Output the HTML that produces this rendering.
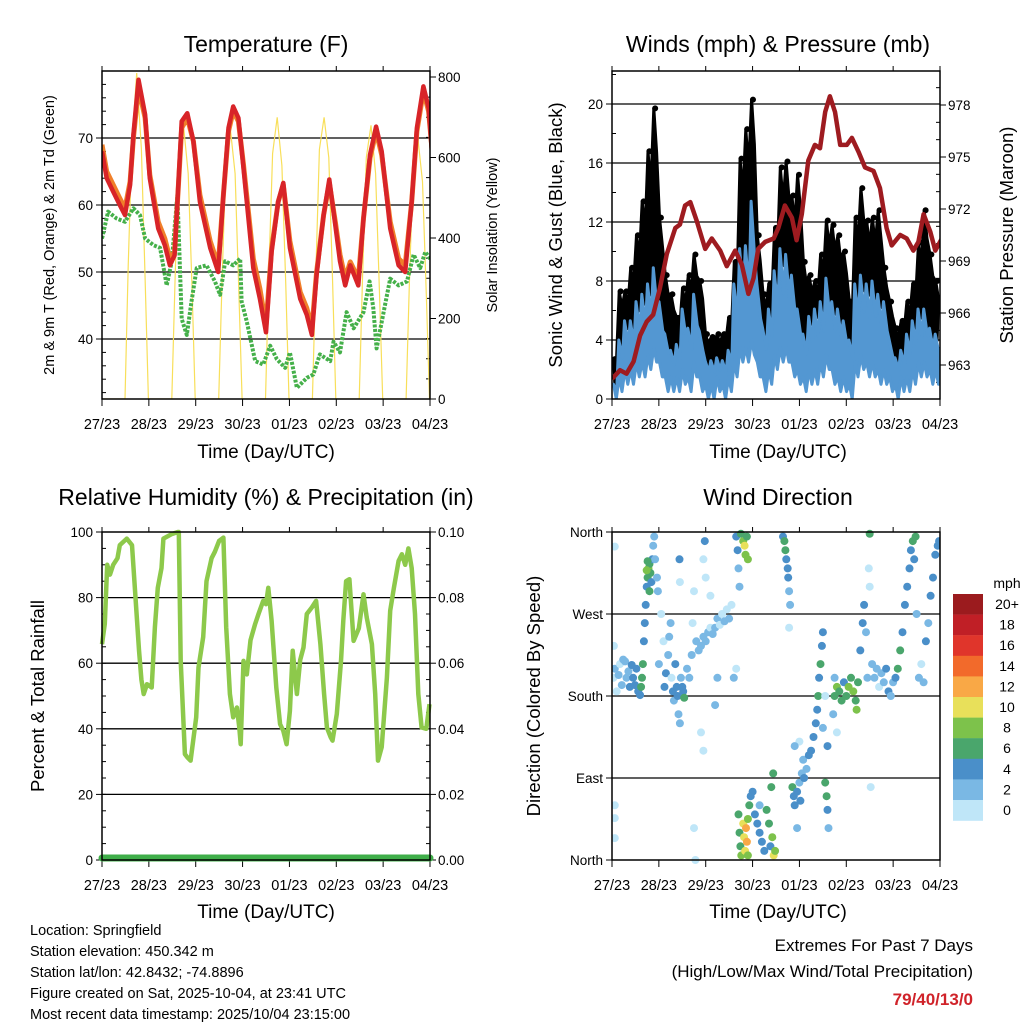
<!DOCTYPE html>
<html><head><meta charset="utf-8"><style>
html,body{margin:0;padding:0;background:#fff;}
svg{display:block;font-family:"Liberation Sans",Arial,sans-serif;}
</style></head><body>
<svg id="chart" width="1024" height="1024" viewBox="0 0 1024 1024" xmlns="http://www.w3.org/2000/svg">
<rect width="1024" height="1024" fill="#fff"/>
<g id="g1"></g>
<g id="g2"></g>
<g id="g3"></g>
<g id="g4"></g>
<g id="gtext">
<text x="30" y="935" font-size="14.5">Location: Springfield</text>
<text x="30" y="956" font-size="14.5">Station elevation: 450.342 m</text>
<text x="30" y="977" font-size="14.5">Station lat/lon: 42.8432; -74.8896</text>
<text x="30" y="998" font-size="14.5">Figure created on Sat, 2025-10-04, at 23:41 UTC</text>
<text x="30" y="1019" font-size="14.5">Most recent data timestamp: 2025/10/04 23:15:00</text>
<text x="973" y="951" font-size="17" text-anchor="end">Extremes For Past 7 Days</text>
<text x="973" y="977" font-size="17" text-anchor="end">(High/Low/Max Wind/Total Precipitation)</text>
<text x="973" y="1005" font-size="17" font-weight="bold" fill="#d0232a" text-anchor="end">79/40/13/0</text>
</g>
</svg>
<script>
// ---------- DATA ----------
const dayLabels = ["27/23","28/23","29/23","30/23","01/23","02/23","03/23","04/23"];
const tempTimes = [0,0.1,0.24,0.38,0.49,0.6,0.67,0.78,0.92,1.02,1.2,1.34,1.45,1.55,1.7,1.82,1.95,2.09,2.31,2.48,2.59,2.7,2.8,2.91,3.02,3.23,3.37,3.5,3.62,3.76,3.87,4.01,4.23,4.37,4.48,4.58,4.73,4.85,4.98,5.08,5.19,5.3,5.47,5.58,5.72,5.85,5.97,6.15,6.33,6.47,6.61,6.72,6.86,6.97,7.04];
const temp2m = [68,64,62,60,58.5,63,70.5,78.7,73.5,64,56.5,54,51,52.5,72.5,73.7,69.5,60.5,53.6,50,61.5,71.5,74.7,73,65.5,50.6,46,41,53,60.5,63.3,53.6,46,43.6,40.6,49.6,58.5,63.8,57,51.6,48,51,48,58,67.5,71.7,68,56.5,51,50,60.5,71.5,77.7,74.5,68];
const temp9m = [69,65,63,61,59.5,63.5,70,77.5,73,64.5,57.5,55,52,53,71.5,73,69.5,61.5,54.6,51,61.5,71,74,72.5,66,52,47.5,42,53.5,60.5,63,54.6,47,44.6,41.6,50,58.5,63.3,57.5,52.6,49,51.5,49,58,67,71,67.5,57.5,52,51,60.5,71,77,74,68.5];
const dewTimes = [0,0.13,0.31,0.49,0.67,0.81,0.92,1.1,1.24,1.38,1.49,1.61,1.7,1.81,1.91,2.02,2.23,2.41,2.52,2.63,2.8,2.95,2.98,3.09,3.27,3.44,3.59,3.73,3.91,4.01,4.16,4.37,4.51,4.65,4.87,4.94,5.08,5.22,5.37,5.58,5.71,5.79,5.86,6.01,6.15,6.33,6.51,6.65,6.79,6.9,7.04];
const dewPt = [55,59,58,57.5,59.5,58.5,55,54,53.6,48,51.6,61.5,43,40.6,45.6,50.6,51,48.6,46.6,51.6,51,52,45.6,42.6,36.7,36.2,39,37,35.7,38,32.7,34.2,34.7,37.7,36.7,39.6,38,44,41.6,44,48.6,44.6,38.6,44,49,48,48.6,52.6,50.6,53,51.6];
const solarTimes = [0,0.49,0.56,0.64,0.74,0.84,0.92,0.99,1.49,1.56,1.64,1.74,1.84,1.92,1.99,2.49,2.56,2.64,2.74,2.84,2.92,2.99,3.49,3.56,3.64,3.74,3.84,3.92,3.99,4.49,4.56,4.64,4.74,4.84,4.92,4.99,5.49,5.56,5.64,5.74,5.84,5.92,5.99,6.49,6.56,6.64,6.74,6.84,6.92,6.99,7.04];
const solarVals = [0,0,330,640,810,620,300,0,0,300,600,680,560,280,0,0,290,580,670,560,270,0,0,310,610,700,580,290,0,0,300,620,700,600,300,0,0,300,600,680,560,270,0,0,290,570,650,540,260,0,0];
const windHigh = [1,4,5.3,5.3,6.6,7.1,7.8,8.9,6.6,4.4,3.3,3.7,6.1,4.8,7.1,4.6,2.6,2.6,2.8,2.6,3.3,7.8,10.2,10.4,13.4,7.8,4.8,6.1,8.7,10.2,9.8,8.4,6.1,4.4,5.6,6.1,6.6,8.2,6.6,6.1,5.3,4,7.8,8.4,7.8,8,7.1,6.6,4,2.8,3.3,4.4,5.3,6.1,6.1,4.8,4.4];
const windLow = [0,0.5,1,1,1.5,1.5,2,2.5,1.5,0.5,0.5,0.5,1,0.5,1.5,0.5,0,0,0.5,0,0.5,1.5,2.5,2.5,3,1.5,0.5,1,2,2.5,2.5,1.5,1,0.5,1,1,1.5,2,1,0.5,0.5,0,1.5,2,1.5,1.5,1,1,0.5,0,0.5,0.5,1,1.5,1.5,1,1];
const gustHigh = [2.7,7.3,7.3,8.9,11.1,13.4,16.8,19.7,12.3,8.4,7.1,5.5,7.5,8.4,9.8,8,4.4,4.2,4.4,4.4,5.5,9.3,16.3,18.3,20.3,11.1,7.1,7.8,11.6,15.7,16.1,13.8,15.2,9.3,8.4,8,9.8,12.1,11.8,11.1,10,6.6,12.3,14.3,12.1,12.3,12.8,8.9,6.6,4.8,5.3,6.6,7.8,10.6,12.8,9.8,8];
const presTimes = [0,0.17,0.31,0.46,0.6,0.74,0.88,1.02,1.17,1.35,1.45,1.56,1.67,1.81,1.99,2.13,2.31,2.45,2.63,2.77,2.91,3.02,3.12,3.27,3.45,3.55,3.69,3.84,3.94,4.05,4.19,4.33,4.44,4.55,4.65,4.76,4.87,5.01,5.12,5.26,5.4,5.58,5.72,5.86,5.97,6.15,6.29,6.43,6.54,6.65,6.79,6.9,7.04];
const presVals = [962.2,962.7,962.5,963.2,964.7,965.5,965.9,967.4,969.4,970.9,971.1,972.2,972.4,971.3,969.7,970.3,969.6,968.7,969.6,968.8,967.1,968,969.7,970.1,970.3,970.9,972.2,971.5,970.2,971.7,974.8,975.7,975.5,977.6,978.5,977.6,975.7,975.7,976.1,975.3,974.4,974.2,973.2,970.9,969.9,970.5,970.3,969.6,970.1,971.7,970.7,969.6,970.3];
const rhTimes = [0,0.06,0.11,0.17,0.24,0.33,0.38,0.53,0.64,0.79,0.84,0.89,0.96,1.06,1.13,1.19,1.27,1.31,1.48,1.62,1.64,1.68,1.77,1.82,1.89,2.01,2.06,2.16,2.23,2.34,2.41,2.5,2.59,2.65,2.73,2.8,2.88,2.93,2.96,3.02,3.09,3.17,3.27,3.34,3.44,3.5,3.55,3.62,3.72,3.8,3.87,3.94,4.01,4.07,4.16,4.23,4.3,4.37,4.48,4.57,4.66,4.74,4.8,4.88,4.92,5.01,5.1,5.15,5.21,5.28,5.37,5.48,5.58,5.65,5.76,5.83,5.89,5.97,6.08,6.15,6.23,6.33,6.4,6.47,6.54,6.61,6.68,6.75,6.82,6.92,6.99];
const rhVals = [65.8,72,90,87,90,92,96,98,96,64,55,50.6,53.6,52.6,71,83,89,98,99.3,100,100,60.7,32.3,31.3,30.3,43.5,58.7,68,85,92,94,97.3,98.3,71,50.6,43.5,46.5,40.4,35.3,60.7,56.6,67,72,75,79,78,83,73,52.6,41.4,39.4,35.3,45.5,63.8,50.6,61,64.8,75,77,79,65.8,50.6,40.4,37.4,36.4,44.5,60.7,73,85,85.6,66.8,70.6,81,74,65.8,50.6,30.3,34.4,55.6,76,83,91.2,93.2,90,95,89,75,50.6,40.4,40,47.5,56.6];
const rainTotal = [0,0];
const dirTimes = [0.03,0.06,0.1,0.14,0.17,0.21,0.24,0.28,0.31,0.35,0.38,0.42,0.45,0.49,0.52,0.56,0.6,0.06,0.06,0.06,0.06,0.04,
0.62,0.64,0.66,0.68,0.7,0.72,0.74,0.76,0.78,0.8,0.82,0.84,0.86,0.88,0.9,0.92,0.96,0.98,0.8,0.74,0.76,
1.0,1.05,1.1,1.12,1.15,1.2,1.22,1.25,1.27,1.3,1.32,1.35,1.38,1.4,1.42,1.45,1.47,1.5,1.52,1.54,1.44,1.45,
1.6,1.65,1.7,1.72,1.75,1.8,1.85,1.9,1.95,2.0,2.05,2.1,2.15,2.2,2.25,2.3,2.35,2.4,2.45,2.5,2.55,2.6,2.65,1.9,1.75,1.78,1.95,2.0,1.98,1.95,2.1,2.2,2.25,
2.65,2.68,2.7,2.72,2.75,2.8,2.83,2.85,2.88,2.9,
2.7,2.72,2.74,2.76,2.8,2.82,2.84,2.86,2.88,2.9,2.93,2.96,2.9,3.0,
3.05,3.1,3.15,3.2,3.25,3.3,3.35,3.38,3.42,3.45,3.48,3.15,3.4,3.44,
3.65,3.68,3.7,3.72,3.75,3.76,3.78,3.8,3.78,
3.85,3.88,3.9,3.95,4.0,4.02,4.05,4.08,4.1,4.0,3.95,3.9,
4.15,4.2,4.25,4.3,4.35,4.38,4.4,4.42,4.45,4.48,4.5,4.55,4.58,4.6,4.62,4.6,4.55,4.5,
4.75,4.8,4.85,4.9,4.95,5.0,5.05,5.1,5.15,5.2,5.25,4.75,5.22,4.72,4.8,
5.3,5.35,5.38,5.42,5.45,5.48,5.5,5.52,5.55,5.6,5.65,5.7,5.75,5.8,5.85,5.9,5.95,6.0,6.05,6.1,6.15,6.2,6.25,6.3,6.35,6.38,6.42,6.45,6.48,5.5,6.5,6.55,6.6,6.65,6.7,6.75,6.8,6.85,6.9,6.95,6.98];
const dirDegrees = [200,210,185,203,215,192,220,218,200,207,190,214,200,192,210,185,181,344,60,46,24,235,
190,200,215,240,260,280,300,310,320,325,315,305,330,345,355,330,310,295,295,318,328,
215,270,240,190,205,225,245,260,200,185,175,215,190,180,160,150,200,190,185,178,330,305,
210,200,225,260,295,240,230,235,245,240,250,255,248,255,265,258,270,262,275,265,280,200,210,140,35,0,330,310,350,120,290,170,200,
355,340,320,300,358,350,345,335,355,330,
50,30,15,5,40,25,10,35,20,45,60,70,5,75,
50,40,30,20,10,55,40,15,25,5,10,60,80,95,
355,350,340,330,320,310,295,280,255,
80,70,60,75,85,65,95,110,90,130,35,125,
100,115,120,135,150,165,180,200,215,235,250,85,70,55,35,125,180,145,
180,190,185,175,195,180,190,200,185,175,195,200,165,160,140,
230,260,280,250,200,320,300,80,215,200,210,190,205,195,210,185,180,195,200,210,230,250,280,300,320,340,350,330,355,358,270,200,215,195,240,260,290,310,335,345,350];
const dirSpeeds = [1,2,1,2,1,3,2,2,3,3,4,4,5,4,4,4,4,1,1,1,1,1,
6,7,7,5,5,5,4,7,8,7,6,5,4,2,2,2,2,2,6,8,6,
3,1,1,4,4,2,3,3,1,4,2,4,5,4,3,3,2,5,4,6,4,1,
3,3,2,1,1,2,3,3,2,2,2,1,2,2,2,1,1,2,1,2,1,2,1,1,1,1,1,1,4,1,1,2,2,
4,4,2,3,7,9,10,8,6,8,
6,7,6,8,10,11,10,12,13,8,6,5,9,4,
4,4,4,5,4,7,7,4,8,10,9,3,6,6,
5,7,6,5,4,5,3,2,1,
6,5,4,4,3,4,2,3,4,1,2,3,
3,4,4,5,5,4,6,5,6,4,5,7,6,5,3,4,1,3,
6,8,7,6,5,7,9,7,8,6,7,3,8,2,1,
4,4,4,3,2,1,1,1,2,2,2,1,2,3,4,4,3,2,4,6,7,4,4,4,4,4,7,5,6,6,3,2,1,2,4,3,4,4,5,4,4];
const speedLabels = ["20+","18","16","14","12","10","8","6","4","2","0"];
const speedColors = ["#bfe6f8","#7ab8e4","#4a8fc9","#4aa66c","#7dc24b","#e8e05a","#f9a846","#f26a2b","#e0352b","#c01f26","#9b1b1e"];

// ---------- HELPERS ----------
const NS = "http://www.w3.org/2000/svg";
function mk(parent, tag, attrs, text) {
  const e = document.createElementNS(NS, tag);
  for (const k in attrs) e.setAttribute(k, attrs[k]);
  if (text !== undefined) e.textContent = text;
  parent.appendChild(e);
  return e;
}
function lin(d0, d1, r0, r1) { return v => r0 + (v - d0) * (r1 - r0) / (d1 - d0); }
const DAYS = 7;

function frame(g, x0, y0, x1, y1, yTicks, ys, ytl, minorStep, minorRange, xs) {
  yTicks.forEach((t, i) => {
    const y = ys(t);
    if (y < y1 - 1 && y > y0 + 1) {
      const l = mk(g, "line", {x1: x0, x2: x1, y1: y, y2: y, stroke: "#000", "stroke-width": 1.3});
      
      
    }
    mk(g, "line", {x1: x0 - 6, x2: x0, y1: y, y2: y, stroke: "#000", "stroke-width": 1});
    const lbl = mk(g, "text", {x: x0 - 9, y: y + 5, "font-size": 13.5, "text-anchor": "end"}, ytl[i]);
    
    
  });
  for (let v = minorRange[0]; v <= minorRange[1] + 1e-9; v += minorStep) {
    const y = ys(v);
    if (y < y0 || y > y1) continue;
    mk(g, "line", {x1: x0, x2: x0 + 4, y1: y, y2: y, stroke: "#000", "stroke-width": 1});
  }
  for (let d = 0; d <= DAYS; d++) {
    const x = xs(d);
    mk(g, "line", {x1: x, x2: x, y1: y1, y2: y1 + 7, stroke: "#000", "stroke-width": 1});
    mk(g, "line", {x1: x, x2: x, y1: y0, y2: y0 - 5, stroke: "#000", "stroke-width": 1});
    const lbl = mk(g, "text", {x: x, y: y1 + 30, "font-size": 14.5, "text-anchor": "middle"}, dayLabels[d]);
    
    
  }
}
function border(g, x0, y0, x1, y1) {
  const r = mk(g, "rect", {x: x0, y: y0, width: x1 - x0, height: y1 - y0, fill: "none", stroke: "#000", "stroke-width": 1.5});
  
  
}
function rightAxis(g, x1, vals, ys, labels, minor) {
  vals.forEach((v, i) => {
    const y = ys(v);
    mk(g, "line", {x1: x1, x2: x1 + 6, y1: y, y2: y, stroke: "#000", "stroke-width": 1});
    const t = mk(g, "text", {x: x1 + 8, y: y + 5, "font-size": 13.5}, labels[i]);
    
    
  });
  minor.forEach(v => { const y = ys(v); mk(g, "line", {x1: x1, x2: x1 - 4, y1: y, y2: y, stroke: "#000", "stroke-width": 1}); });
}
function pathFrom(xsArr, ysArr, xs, ys) {
  return xsArr.map((t, i) => (i ? "L" : "M") + xs(t).toFixed(1) + "," + ys(ysArr[i]).toFixed(1)).join("");
}
function title(g, x, y, txt, size, name) {
  const t = mk(g, "text", {x: x, y: y, "font-size": size, "text-anchor": "middle"}, txt);
  
  
}
function vtitle(g, x, y, txt, size, name) {
  const t = mk(g, "text", {x: x, y: y, "font-size": size, "text-anchor": "middle", transform: "rotate(-90 " + x + " " + y + ")"}, txt);
  
  
}

// ---------- PANEL 1 ----------
(function () {
  const g = document.getElementById("g1");
  const x0 = 102, x1 = 430, y0 = 71, y1 = 399;
  const xs = lin(0, DAYS, x0, x1);
  const ys = lin(40, 70, 339, 138);
  const ss = lin(0, 800, 399, 77);
  const cp = mk(g, "clipPath", {id: "c1"}); mk(cp, "rect", {x: x0, y: y0, width: x1 - x0, height: y1 - y0});
  frame(g, x0, y0, x1, y1, [40, 50, 60, 70], ys, ["40", "50", "60", "70"], 2, [32, 80], xs);
  rightAxis(g, x1, [0, 200, 400, 600, 800], ss, ["0", "200", "400", "600", "800"], [50,100,150,250,300,350,450,500,550,650,700,750]);
  const pc = mk(g, "g", {"clip-path": "url(#c1)"});
  const sol = mk(pc, "path", {d: pathFrom(solarTimes, solarVals, xs, ss), fill: "none", stroke: "#f8df5a", "stroke-width": 1.2});
  
  
  const dew = mk(pc, "path", {d: pathFrom(dewTimes, dewPt, xs, ys), fill: "none", stroke: "#45b04a", "stroke-width": 4, "stroke-dasharray": "3 1.5", "stroke-linejoin": "round"});
  
  
  const t9 = mk(pc, "path", {d: pathFrom(tempTimes, temp9m, xs, ys), fill: "none", stroke: "#f07f2a", "stroke-width": 5, "stroke-linejoin": "round"});
  
  
  const t2 = mk(pc, "path", {d: pathFrom(tempTimes, temp2m, xs, ys), fill: "none", stroke: "#d82428", "stroke-width": 4.5, "stroke-linejoin": "round"});
  
  
  border(g, x0, y0, x1, y1);
  title(g, 266, 52, "Temperature (F)", 23, "temperature-title");
  title(g, 266, 458, "Time (Day/UTC)", 19, "x-axis-title");
  vtitle(g, 54, 235, "2m & 9m T (Red, Orange) & 2m Td (Green)", 14.5, "y-axis-title");
  vtitle(g, 497, 235, "Solar Insolation (Yellow)", 14.5, "right-axis-title");
})();

// ---------- PANEL 2 ----------
(function () {
  const g = document.getElementById("g2");
  const x0 = 612, x1 = 940, y0 = 71, y1 = 399;
  const xs = lin(0, DAYS, x0, x1);
  const ys = lin(0, 20, 399, 104);
  const ps = lin(963, 978, 365, 105);
  const cp = mk(g, "clipPath", {id: "c2"}); mk(cp, "rect", {x: x0, y: y0, width: x1 - x0, height: y1 - y0});
  frame(g, x0, y0, x1, y1, [0, 4, 8, 12, 16, 20], ys, ["0", "4", "8", "12", "16", "20"], 2, [0, 22], xs);
  rightAxis(g, x1, [963, 966, 969, 972, 975, 978], ps, ["963", "966", "969", "972", "975", "978"], [962,964,965,967,968,970,971,973,974,976,977,979]);
  const pc = mk(g, "g", {"clip-path": "url(#c2)"});
  const n = gustHigh.length;
  const bt = i => (i + 0.5) * DAYS / n;
  let top = "", bot = "";
  for (let i = 0; i < n; i++) {
    top += (i ? "L" : "M") + xs(bt(i) - 0.03).toFixed(1) + "," + ys(gustHigh[i]).toFixed(1) + "L" + xs(bt(i) + 0.03).toFixed(1) + "," + ys(gustHigh[i] * 0.85).toFixed(1);
  }
  for (let i = n - 1; i >= 0; i--) bot += "L" + xs(bt(i)).toFixed(1) + "," + ys(windHigh[i] * 0.9).toFixed(1);
  const gp = mk(pc, "path", {d: top + bot + "Z", fill: "#000", stroke: "#000", "stroke-width": 3, "stroke-linejoin": "round"});
  
  
  for (let i = 0; i < n; i++) {
    const c = mk(pc, "circle", {cx: xs(bt(i)), cy: ys(gustHigh[i]), r: 3, fill: "#000"});
    
    
  }
  let wt = "", wb = "";
  for (let i = 0; i < n; i++) {
    wt += (i ? "L" : "M") + xs(bt(i) - 0.04).toFixed(1) + "," + ys(windHigh[i]).toFixed(1) + "L" + xs(bt(i) + 0.04).toFixed(1) + "," + ys(windHigh[i] * 0.7).toFixed(1);
  }
  for (let i = n - 1; i >= 0; i--) wb += "L" + xs(bt(i) + 0.03).toFixed(1) + "," + ys(windLow[i]).toFixed(1) + "L" + xs(bt(i) - 0.03).toFixed(1) + "," + ys(windLow[i] + 1).toFixed(1);
  const wp = mk(pc, "path", {d: wt + wb + "Z", fill: "#5397d2", stroke: "#5397d2", "stroke-width": 3, "stroke-linejoin": "round"});
  
  
  const pl = mk(pc, "path", {d: pathFrom(presTimes, presVals, xs, ps), fill: "none", stroke: "#9e1b20", "stroke-width": 4.5, "stroke-linejoin": "round"});
  
  
  border(g, x0, y0, x1, y1);
  title(g, 778, 52, "Winds (mph) & Pressure (mb)", 23, "winds-title");
  title(g, 778, 458, "Time (Day/UTC)", 19, "x-axis-title");
  vtitle(g, 562, 235, "Sonic Wind & Gust (Blue, Black)", 18.5, "y-axis-title");
  vtitle(g, 1013, 235, "Station Pressure (Maroon)", 18.5, "right-axis-title");
})();

// ---------- PANEL 3 ----------
(function () {
  const g = document.getElementById("g3");
  const x0 = 102, x1 = 430, y0 = 532, y1 = 860;
  const xs = lin(0, DAYS, x0, x1);
  const ys = lin(0, 100, 860, 532);
  const rs = lin(0, 0.1, 860, 532);
  const cp = mk(g, "clipPath", {id: "c3"}); mk(cp, "rect", {x: x0 - 4, y: y0 - 3, width: x1 - x0 + 8, height: y1 - y0 + 8});
  frame(g, x0, y0, x1, y1, [0, 20, 40, 60, 80, 100], ys, ["0", "20", "40", "60", "80", "100"], 5, [0, 100], xs);
  rightAxis(g, x1, [0, 0.02, 0.04, 0.06, 0.08, 0.1], rs, ["0.00", "0.02", "0.04", "0.06", "0.08", "0.10"], [0.005,0.01,0.015,0.025,0.03,0.035,0.045,0.05,0.055,0.065,0.07,0.075,0.085,0.09,0.095]);
  const pc = mk(g, "g", {"clip-path": "url(#c3)"});
  const rh = mk(pc, "path", {d: pathFrom(rhTimes, rhVals, xs, ys), fill: "none", stroke: "#8dc94b", "stroke-width": 4.5, "stroke-linejoin": "round"});
  
  
  const rn = mk(pc, "path", {d: pathFrom([0, DAYS], rainTotal, xs, rs), fill: "none", stroke: "#3fae49", "stroke-width": 7, "stroke-linecap": "round", transform: "translate(0,-2)"});
  
  
  border(g, x0, y0, x1, y1);
  title(g, 266, 505, "Relative Humidity (%) & Precipitation (in)", 23, "humidity-title");
  title(g, 266, 918, "Time (Day/UTC)", 19, "x-axis-title");
  vtitle(g, 44, 696, "Percent & Total Rainfall", 18.5, "y-axis-title");
})();

// ---------- PANEL 4 ----------
(function () {
  const g = document.getElementById("g4");
  const x0 = 612, x1 = 940, y0 = 532, y1 = 860;
  const xs = lin(0, DAYS, x0, x1);
  const ys = lin(0, 360, 860, 532);
  const cp = mk(g, "clipPath", {id: "c4"}); mk(cp, "rect", {x: x0, y: y0 - 4, width: x1 - x0, height: y1 - y0 + 8});
  frame(g, x0, y0, x1, y1, [0, 90, 180, 270, 360], ys, ["North", "East", "South", "West", "North"], 1000, [0, 0], xs);
  const pc = mk(g, "g", {"clip-path": "url(#c4)"});
  dirTimes.forEach((t, i) => {
    const ci = Math.min(10, Math.floor(dirSpeeds[i] / 2));
    const c = mk(pc, "circle", {cx: xs(t).toFixed(1), cy: ys(dirDegrees[i]).toFixed(1), r: 4, fill: speedColors[ci]});
    
    
  });
  border(g, x0, y0, x1, y1);
  title(g, 778, 505, "Wind Direction", 23, "wind-direction-title");
  title(g, 778, 918, "Time (Day/UTC)", 19, "x-axis-title");
  vtitle(g, 540, 696, "Direction (Colored By Speed)", 18.5, "y-axis-title");
  const lg = mk(g, "g", {});
  
  
  const mt = mk(lg, "text", {x: 1007, y: 588, "font-size": 14, "text-anchor": "middle"}, "mph");
  
  
  speedLabels.forEach((s, i) => {
    const y = 594 + i * 20.6;
    const r = mk(lg, "rect", {x: 953, y: y, width: 30, height: 20.8, fill: speedColors[10 - i]});
    
    
    const t = mk(lg, "text", {x: 1007, y: y + 15, "font-size": 14, "text-anchor": "middle"}, s);
    
    
  });
})();
</script>
</body></html>
